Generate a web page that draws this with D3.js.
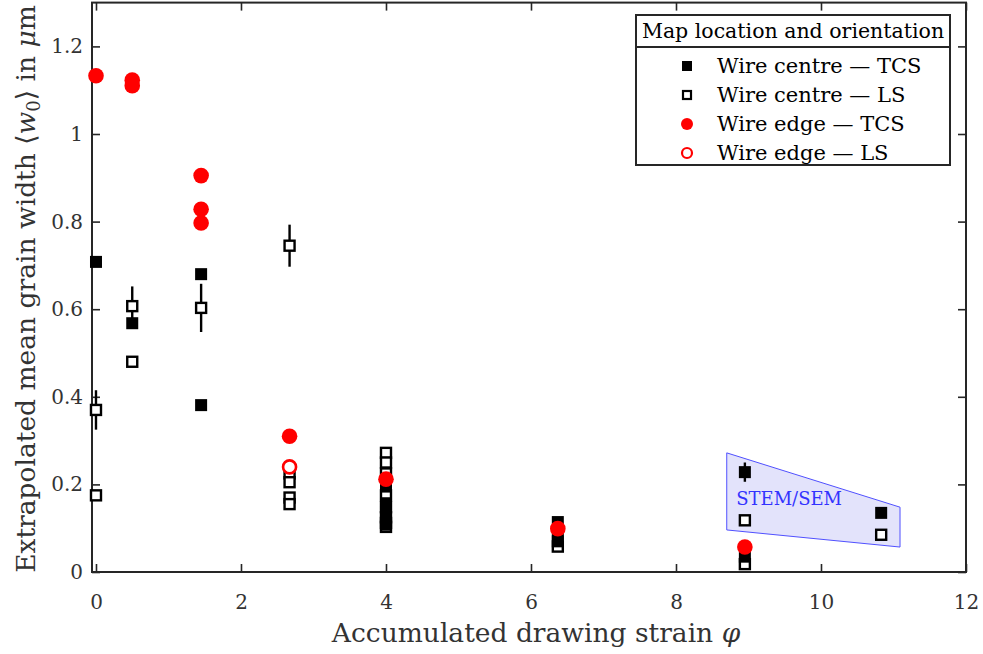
<!DOCTYPE html>
<html>
<head>
<meta charset="utf-8">
<script src="https://cdn.jsdelivr.net/npm/d3@7"></script>
<style>
  html, body { margin: 0; padding: 0; background: #fff; }
  svg { display: block; }
  text { font-family: "DejaVu Serif", "Liberation Serif", serif; }
</style>
</head>
<body>
<svg id="chart" width="983" height="654"></svg>
<script>
// ---------------- DATA ----------------
const xTicks = [0, 2, 4, 6, 8, 10, 12];
const yTicks = [0, 0.2, 0.4, 0.6, 0.8, 1, 1.2];
const xTickLabels = ["0", "2", "4", "6", "8", "10", "12"];
const yTickLabels = ["0", "0.2", "0.4", "0.6", "0.8", "1", "1.2"];

// Wire centre - TCS (filled black squares): [strain, width, errorHalf]
const centreTCS = [
  [0, 0.708, 0], [0.5, 0.568, 0], [1.45, 0.680, 0], [1.45, 0.381, 0],
  [4.0, 0.195, 0], [4.0, 0.157, 0], [4.0, 0.138, 0], [4.0, 0.108, 0],
  [6.37, 0.114, 0], [6.37, 0.085, 0], [6.37, 0.070, 0],
  [8.95, 0.228, 0.022], [8.95, 0.035, 0],
  [10.83, 0.135, 0.012]
];
// Wire centre - LS (open black squares)
const centreLS = [
  [0, 0.370, 0.045], [0, 0.175, 0],
  [0.5, 0.607, 0.045], [0.5, 0.480, 0.01],
  [1.45, 0.603, 0.055],
  [2.67, 0.745, 0.048], [2.67, 0.225, 0], [2.67, 0.205, 0], [2.67, 0.170, 0], [2.67, 0.155, 0],
  [4.0, 0.272, 0.012], [4.0, 0.250, 0], [4.0, 0.225, 0], [4.0, 0.175, 0], [4.0, 0.148, 0],
  [4.0, 0.125, 0], [4.0, 0.112, 0], [4.0, 0.103, 0],
  [6.37, 0.058, 0],
  [8.95, 0.118, 0], [8.95, 0.018, 0],
  [10.83, 0.085, 0.012]
];
// Wire edge - TCS (filled red circles)
const edgeTCS = [
  [0, 1.133], [0.5, 1.123], [0.5, 1.110],
  [1.45, 0.905], [1.45, 0.828], [1.45, 0.797],
  [2.67, 0.310], [4.0, 0.212], [6.37, 0.099], [8.95, 0.057]
];
// Wire edge - LS (open red circles)
const edgeLS = [[2.67, 0.240]];

// STEM/SEM shaded region (strain, width)
const stemRegion = [[8.70, 0.272], [11.09, 0.148], [11.09, 0.057], [8.70, 0.096]];
const stemLabel = "STEM/SEM";

const legendTitle = "Map location and orientation";
const legendEntries = ["Wire centre — TCS", "Wire centre — LS", "Wire edge — TCS", "Wire edge — LS"];

// ---------------- LAYOUT ----------------
const svg = d3.select("#chart");
const L = 92, R = 966, T = 2.6, B = 572;
const x = d3.scaleLinear().domain([-0.055, 12]).range([L, R]);
const y = d3.scaleLinear().domain([0, 1.3]).range([B, T]);
const axisColor = "#262626";
const FONT = "'DejaVu Serif', 'Liberation Serif', serif";

// STEM region
svg.append("polygon")
  .attr("points", stemRegion.map(d => [x(d[0]), y(d[1])].join(",")).join(" "))
  .attr("fill", "#e3e3fb").attr("stroke", "#5050ff").attr("stroke-width", 1);
svg.append("text").attr("x", x(8.83)).attr("y", y(0.152))
  .attr("fill", "#3333ff").attr("font-size", 18).text(stemLabel);

// Frame + ticks
const tickLen = 8;
svg.append("rect").attr("x", L).attr("y", T).attr("width", R - L).attr("height", B - T)
  .attr("fill", "none").attr("stroke", axisColor).attr("stroke-width", 2);

const xAxisB = d3.axisBottom(x).tickValues(xTicks).tickSize(-tickLen).tickFormat((d, i) => xTickLabels[i]).tickPadding(23);
const xAxisT = d3.axisTop(x).tickValues(xTicks).tickSize(-tickLen).tickFormat("");
const yAxisL = d3.axisLeft(y).tickValues(yTicks).tickSize(-tickLen).tickFormat((d, i) => yTickLabels[i]).tickPadding(9);
const yAxisR = d3.axisRight(y).tickValues(yTicks).tickSize(-tickLen).tickFormat("");

function styleAxis(sel) {
  sel.select(".domain").remove();
  sel.selectAll(".tick line").attr("stroke", axisColor).attr("stroke-width", 1.6);
  sel.selectAll(".tick text").attr("fill", "#333").attr("font-size", 20).attr("font-family", FONT);
}
svg.append("g").attr("transform", `translate(0,${B})`).call(xAxisB).call(styleAxis);
svg.append("g").attr("transform", `translate(0,${T})`).call(xAxisT).call(styleAxis);
svg.append("g").attr("transform", `translate(${L},0)`).call(yAxisL).call(styleAxis);
svg.append("g").attr("transform", `translate(${R},0)`).call(yAxisR).call(styleAxis);

// Axis labels
const xl = svg.append("text").attr("x", 536).attr("y", 642).attr("text-anchor", "middle")
  .attr("fill", "#333").attr("font-size", 26.5);
xl.append("tspan").text("Accumulated drawing strain ");
xl.append("tspan").attr("font-style", "italic").text("φ");

const yl = svg.append("text").attr("transform", `translate(35,289) rotate(-90)`)
  .attr("text-anchor", "middle").attr("fill", "#333").attr("font-size", 26.5);
yl.append("tspan").text("Extrapolated mean grain width ⟨");
yl.append("tspan").attr("font-style", "italic").text("w");
yl.append("tspan").attr("font-size", 18).attr("dy", 5).text("0");
yl.append("tspan").attr("dy", -5).text("⟩ in ");
yl.append("tspan").attr("font-style", "italic").text("μ");
yl.append("tspan").text("m");

// Error bars
const plot = svg.append("g");
const errData = centreLS.concat(centreTCS).filter(d => d[2] > 0);
plot.selectAll("line.err").data(errData).enter().append("line")
  .attr("x1", d => x(d[0])).attr("x2", d => x(d[0]))
  .attr("y1", d => y(d[1] - d[2])).attr("y2", d => y(d[1] + d[2]))
  .attr("stroke", "#000").attr("stroke-width", 2.4);

const sq = 12;
// open squares
plot.selectAll("rect.open").data(centreLS).enter().append("rect")
  .attr("x", d => x(d[0]) - (sq - 2) / 2).attr("y", d => y(d[1]) - (sq - 2) / 2)
  .attr("width", sq - 2).attr("height", sq - 2)
  .attr("fill", "#fff").attr("stroke", "#000").attr("stroke-width", 2.4);
// filled squares
plot.selectAll("rect.fill").data(centreTCS).enter().append("rect")
  .attr("x", d => x(d[0]) - sq / 2).attr("y", d => y(d[1]) - sq / 2)
  .attr("width", sq).attr("height", sq).attr("fill", "#000");
// red filled circles
plot.selectAll("circle.fill").data(edgeTCS).enter().append("circle")
  .attr("cx", d => x(d[0])).attr("cy", d => y(d[1])).attr("r", 7.8).attr("fill", "#ff0000");
// red open circles
plot.selectAll("circle.open").data(edgeLS).enter().append("circle")
  .attr("cx", d => x(d[0])).attr("cy", d => y(d[1])).attr("r", 6.5)
  .attr("fill", "#fff").attr("stroke", "#ff0000").attr("stroke-width", 2.6);

// Legend
const lg = svg.append("g");
const lx = 636, ly = 15, lw = 314, lh = 150, th = 32;
lg.append("rect").attr("x", lx).attr("y", ly).attr("width", lw).attr("height", lh)
  .attr("fill", "#fff").attr("stroke", axisColor).attr("stroke-width", 2);
lg.append("line").attr("x1", lx).attr("x2", lx + lw).attr("y1", ly + th).attr("y2", ly + th)
  .attr("stroke", axisColor).attr("stroke-width", 2);
lg.append("text").attr("x", lx + lw / 2).attr("y", ly + 23).attr("text-anchor", "middle")
  .attr("font-size", 20.5).attr("fill", "#000").text(legendTitle);
const rowY = [66, 95, 124, 153];
legendEntries.forEach((t, i) => {
  const cy = rowY[i], mx = 687;
  if (i === 0) lg.append("rect").attr("x", mx - 5).attr("y", cy - 5).attr("width", 10).attr("height", 10).attr("fill", "#000");
  if (i === 1) lg.append("rect").attr("x", mx - 4).attr("y", cy - 4).attr("width", 8).attr("height", 8)
    .attr("fill", "#fff").attr("stroke", "#000").attr("stroke-width", 2.2);
  if (i === 2) lg.append("circle").attr("cx", mx).attr("cy", cy).attr("r", 6).attr("fill", "#ff0000");
  if (i === 3) lg.append("circle").attr("cx", mx).attr("cy", cy).attr("r", 5).attr("fill", "#fff")
    .attr("stroke", "#ff0000").attr("stroke-width", 2.2);
  lg.append("text").attr("x", 717).attr("y", cy + 7).attr("font-size", 21).attr("fill", "#000").text(t);
});
</script>
</body>
</html>
